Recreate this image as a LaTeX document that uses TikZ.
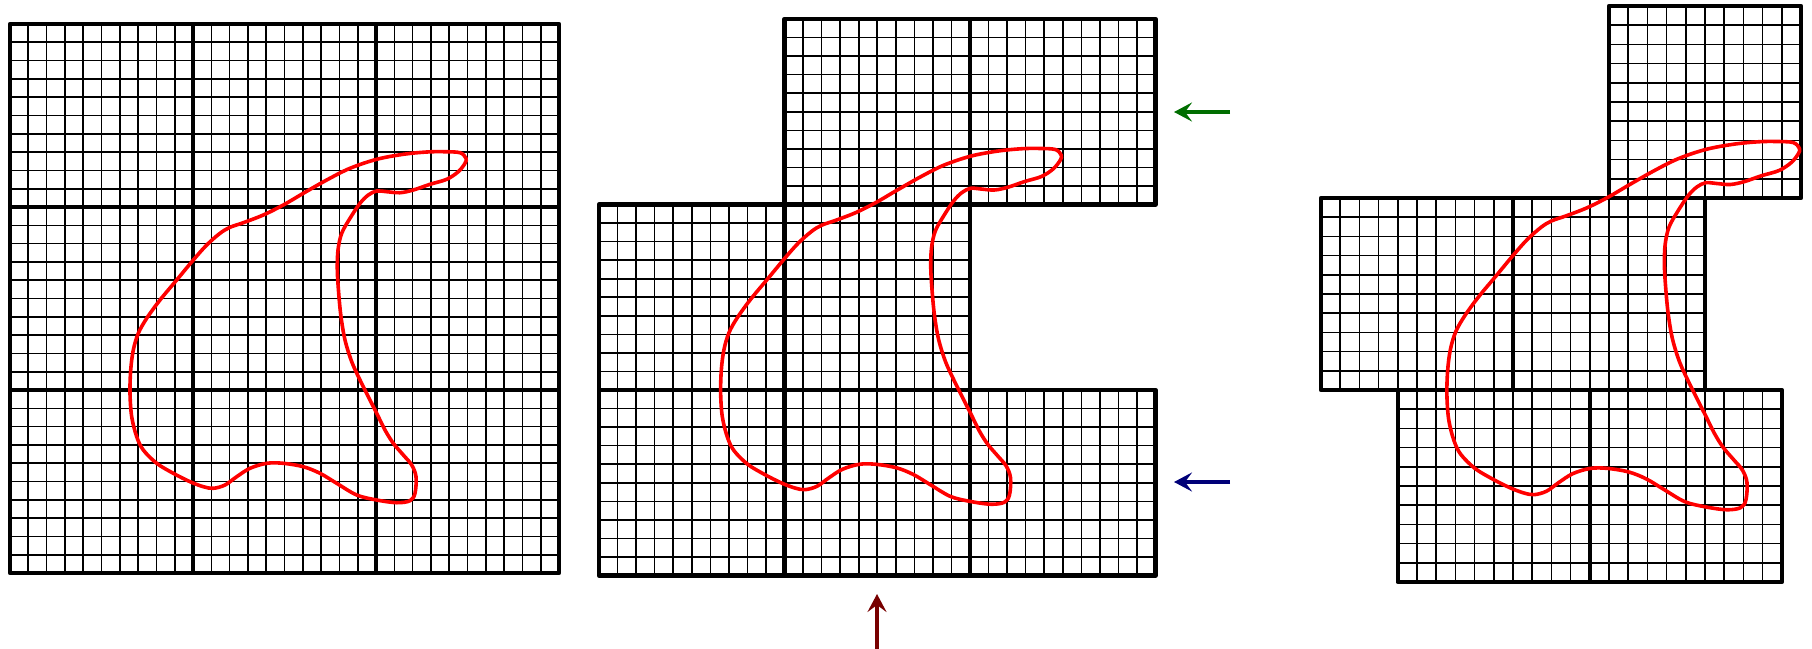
\documentclass[tikz,border=0pt]{standalone}
\usetikzlibrary{arrows.meta}
\definecolor{curvered}{RGB}{255,0,0}
\definecolor{arrgreen}{RGB}{0,110,0}
\definecolor{arrblue}{RGB}{0,0,120}
\definecolor{arrred}{RGB}{120,0,0}
\tikzset{
  thinline/.style={line width=1.6pt, black},
  thickline/.style={line width=4.6pt, black, line join=round, line cap=round},
  blobline/.style={line width=3.6pt, curvered, line join=round},
  markarrow/.style={line width=4pt, -{Stealth[length=18pt,width=19pt,inset=7pt]}},
}
\newcommand\gblock[2]{%
  \foreach \i in {1,...,9}{%
    \draw[thinline] ({(#1+\i/10)*183},{#2*183}) -- ({(#1+\i/10)*183},{(#2+1)*183});
    \draw[thinline] ({#1*183},{(#2+\i/10)*183}) -- ({(#1+1)*183},{(#2+\i/10)*183});
  }%
}
\newcommand\gframe[2]{\draw[thickline] ({#1*183},{#2*183}) rectangle ({(#1+1)*183},{(#2+1)*183});}
\newcommand\drawblob{%
  \draw[blobline] plot[smooth cycle, tension=0.55] coordinates {
  (456,134.3) (450,128.7) (433.3,127.7) (416.7,128) (393.3,130.3) (366.7,135.3)
  (340,144.3) (316.7,156) (293.3,169.3) (273.3,181) (253.3,191) (233.3,198.7)
  (220,203.3) (210,209.3) (196.7,221) (183.3,236) (166.7,256) (150,276)
  (136.7,294.3) (128.3,309.3) (123.3,326) (120.7,346) (120,369.3) (121.7,392.7)
  (126.7,412.7) (133.3,426) (146.7,439.3) (163.3,449.3) (180,457.7) (193.3,462.7)
  (203.3,464.3) (215,461) (226.7,452.7) (240,444.3) (256.7,439.3) (273.3,439.3)
  (293.3,442.7) (310,449.3) (326.7,459.3) (346.7,471) (366.7,476) (386.7,478.7)
  (400,476.7) (405,469.3) (406,452.7) (401.7,441) (393.3,431) (383.3,419.3)
  (375,406) (366.7,389.3) (358.3,372.7) (350,356) (341.7,337.7) (335,316)
  (331,292.7) (328.7,269.3) (327.3,246) (328,226) (331.7,209.3) (340,194.3)
  (350,179.3) (358.3,171) (366.7,167) (376.7,167.7) (390,168.7) (403.3,166)
  (420,160.3) (436.7,155.3) (448.3,147.7) (455,139.3)};%
}
\begin{document}
\begin{tikzpicture}[x=1pt,y=-1pt]
\useasboundingbox (0,0) rectangle (1812,648);
% left panel
\begin{scope}[shift={(10,24)}]
  \foreach \c in {0,1,2}{\foreach \r in {0,1,2}{\gblock{\c}{\r}}}
  \foreach \c in {0,1,2}{\foreach \r in {0,1,2}{\gframe{\c}{\r}}}
  \drawblob
\end{scope}
% middle panel
\begin{scope}[shift={(599,19)}, scale=1.01366]
  \gblock{1}{0}\gblock{2}{0}
  \gblock{0}{1}\gblock{1}{1}
  \gblock{0}{2}\gblock{1}{2}\gblock{2}{2}
  \gframe{1}{0}\gframe{2}{0}
  \gframe{0}{1}\gframe{1}{1}
  \gframe{0}{2}\gframe{1}{2}\gframe{2}{2}
  \drawblob
\end{scope}
% right panel
\begin{scope}[shift={(1321,6)}, scale=1.04918]
  \gblock{1.5}{0}
  \gblock{0}{1}\gblock{1}{1}
  \gblock{0.4}{2}\gblock{1.4}{2}
  \gframe{1.5}{0}
  \gframe{0}{1}\gframe{1}{1}
  \gframe{0.4}{2}\gframe{1.4}{2}
\end{scope}
\begin{scope}[shift={(1321,7.5)}, scale=1.04918]
  \drawblob
\end{scope}
% arrows
\coordinate (gT) at (1230,112);
\coordinate (gH) at (1174,112);
\coordinate (bT) at (1230,482);
\coordinate (bH) at (1174,482);
\coordinate (rT) at (877,650);
\coordinate (rH) at (877,594);
\draw[markarrow, arrgreen] (gT) -- (gH);
\draw[markarrow, arrblue] (bT) -- (bH);
\draw[markarrow, arrred] (rT) -- (rH);
\end{tikzpicture}
\end{document}
